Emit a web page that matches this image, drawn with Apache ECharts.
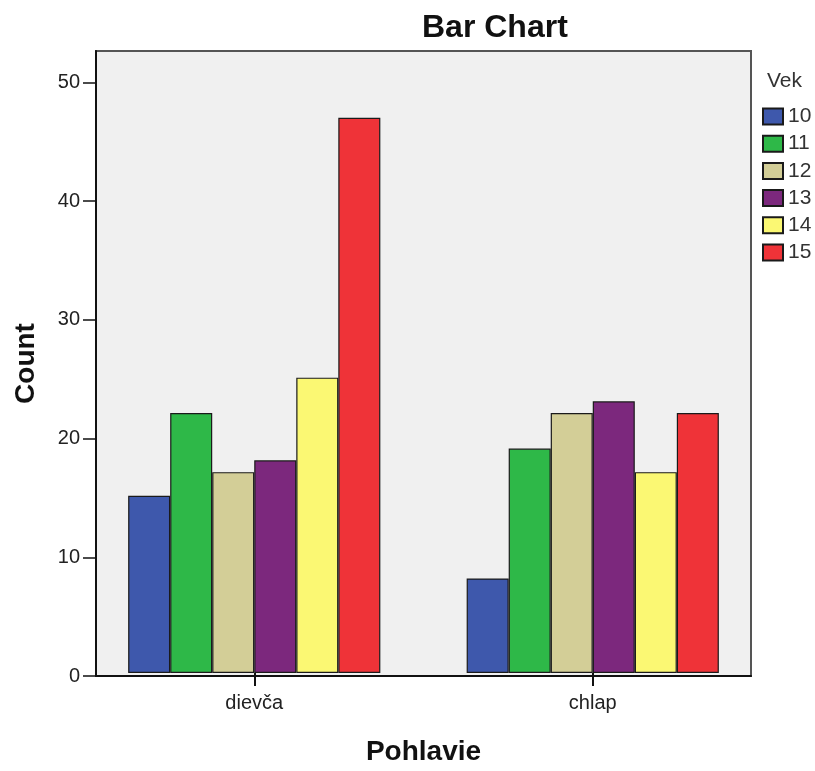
<!DOCTYPE html>
<html>
<head>
<meta charset="utf-8">
<script src="https://cdn.jsdelivr.net/npm/echarts@6/dist/echarts.min.js"></script>
<style>html,body{margin:0;padding:0;background:#fff;}#c{width:815px;height:771px;}</style>
</head>
<body>
<div id="c"></div>
<script>
const categories = ['dievča', 'chlap'];
const ageGroups = ['10', '11', '12', '13', '14', '15'];
const age10 = [15, 8];
const age11 = [22, 19];
const age12 = [17, 22];
const age13 = [18, 23];
const age14 = [25, 17];
const age15 = [47, 22];
const yTicks = [0, 10, 20, 30, 40, 50];
const colors = ['#3E58AC', '#2EB848', '#D3CE97', '#7C287D', '#FBF873', '#EF3338'];

const seriesValues = [age10, age11, age12, age13, age14, age15];
const FONT = '"Liberation Sans", Arial, sans-serif';
const yMax = 52.65;

const chart = echarts.init(document.getElementById('c'), null, {renderer: 'canvas'});
chart.setOption({
  animation: false,
  backgroundColor: '#ffffff',
  textStyle: {fontFamily: FONT},
  title: [
    {text: 'Bar Chart', left: 422, top: 12, padding: 0,
     textStyle: {fontFamily: FONT, fontSize: 32, fontWeight: 'bold', color: '#111'}},
    {text: 'Vek', left: 767, top: 71, padding: 0,
     textStyle: {fontFamily: FONT, fontSize: 21, fontWeight: 'normal', color: '#333'}}
  ],
  legend: {
    orient: 'vertical', left: 762, top: 106, padding: 0,
    itemWidth: 20, itemHeight: 16, itemGap: 6.2,
    icon: 'rect',
    data: ageGroups,
    textStyle: {fontFamily: FONT, fontSize: 21, color: '#333'}
  },
  grid: [
    {left: 96, right: 64, top: 51, bottom: 95, show: true,
     backgroundColor: '#F0F0F0', borderColor: '#555', borderWidth: 2},
    {left: 85, right: 53, top: 51, bottom: 95, show: false}
  ],
  xAxis: [
    {gridIndex: 0, type: 'category', data: categories, z: 5,
     axisLine: {show: true, lineStyle: {color: '#111', width: 2}},
     axisTick: {show: false}, axisLabel: {show: false}, splitLine: {show: false}},
    {gridIndex: 1, type: 'category', data: categories,
     name: 'Pohlavie', nameLocation: 'middle', nameGap: 65,
     nameTextStyle: {fontFamily: FONT, fontSize: 28, fontWeight: 'bold', color: '#111'},
     axisLine: {show: false},
     axisTick: {show: true, alignWithLabel: true, length: 13, lineStyle: {color: '#111', width: 2}},
     axisLabel: {show: true, fontFamily: FONT, fontSize: 20, color: '#222', margin: 20},
     splitLine: {show: false}}
  ],
  yAxis: [
    {gridIndex: 0, type: 'value', min: 0, max: yMax, interval: 10, z: 5,
     name: 'Count', nameLocation: 'middle', nameGap: 56, nameRotate: 90,
     nameTextStyle: {fontFamily: FONT, fontSize: 28, fontWeight: 'bold', color: '#111'},
     axisLine: {show: true, lineStyle: {color: '#111', width: 2}},
     axisTick: {show: true, length: 13, lineStyle: {color: '#111', width: 1.5}},
     axisLabel: {show: true, fontFamily: FONT, fontSize: 20, color: '#222', margin: 16,
       showMaxLabel: false,
       formatter: v => (yTicks.indexOf(v) >= 0 ? String(v) : '')},
     splitLine: {show: false}},
    {gridIndex: 1, type: 'value', min: 0, max: yMax, interval: 10, show: false,
     splitLine: {show: false}}
  ],
  series: ageGroups.map((name, i) => ({
    name: name,
    type: 'bar',
    xAxisIndex: 1,
    yAxisIndex: 1,
    data: seriesValues[i],
    barGap: '0%',
    barCategoryGap: '25.5%',
    itemStyle: {color: colors[i], borderColor: '#1a1a1a', borderWidth: 1.2}
  }))
});
</script>
</body>
</html>
